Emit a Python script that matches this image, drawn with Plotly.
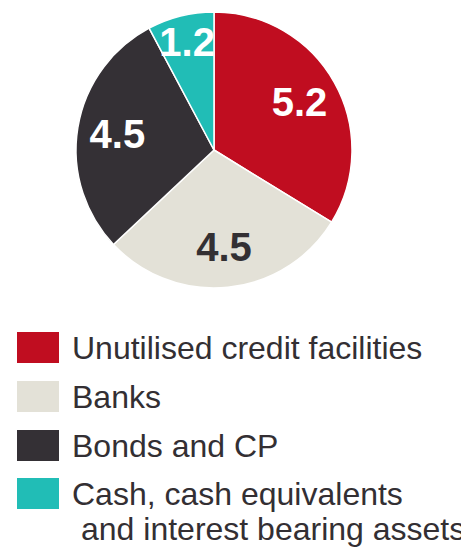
import plotly.graph_objects as go

labels = [
    "Unutilised credit facilities",
    "Banks",
    "Bonds and CP",
    "Cash, cash equivalents<br>and interest bearing assets",
]
values = [5.2, 4.5, 4.5, 1.2]
colors = ["#C00D20", "#E3E1D7", "#343035", "#21BDB6"]
text_colors = ["#FFFFFF", "#333033", "#FFFFFF", "#FFFFFF"]

W, H = 469, 550
OFF = 8  # page body margin shifts the figure by 8px
FONT = "Arial, Liberation Sans, sans-serif"


def px(x):
    return (x - OFF) / W


def py(y):
    return 1 - (y - OFF) / H


pie_domain = dict(x=[px(76), px(352)], y=[py(288), py(12)])

fig = go.Figure()

# slices
fig.add_trace(go.Pie(
    labels=labels,
    values=values,
    sort=False,
    direction="clockwise",
    rotation=0,
    marker=dict(colors=colors, line=dict(color="#FFFFFF", width=1.5)),
    textinfo="none",
    showlegend=False,
    hoverinfo="skip",
    domain=pie_domain,
))

# value labels, drawn by a transparent donut so they sit further out
fig.add_trace(go.Pie(
    labels=labels,
    values=values,
    sort=False,
    direction="clockwise",
    rotation=0,
    hole=0.42,
    marker=dict(colors=["rgba(0,0,0,0)"] * 4, line=dict(width=0)),
    texttemplate="%{value:.1f}",
    textposition="inside",
    insidetextorientation="horizontal",
    textfont=dict(family=FONT, size=40, color=text_colors, weight="bold"),
    showlegend=False,
    hoverinfo="skip",
    domain=pie_domain,
))

# hand-drawn legend: square swatch + label per row
row_top = [332, 381, 430, 478]
shapes = []
annotations = []
for i, lab in enumerate(labels):
    y0 = row_top[i]
    shapes.append(dict(
        type="rect", xref="paper", yref="paper",
        x0=px(17), x1=px(59), y0=py(y0 + 31), y1=py(y0),
        fillcolor=colors[i], line=dict(width=0),
    ))
    for j, part in enumerate(lab.split("<br>")):
        annotations.append(dict(
            text=part, xref="paper", yref="paper",
            x=px(70 if j == 0 else 79), y=py(y0 + 16 + j * 35),
            xanchor="left", yanchor="middle", showarrow=False,
            font=dict(family=FONT, size=32, color="#332F33"),
        ))

fig.update_layout(
    width=W,
    height=H,
    margin=dict(l=0, r=0, t=0, b=0),
    paper_bgcolor="#FFFFFF",
    plot_bgcolor="#FFFFFF",
    uniformtext=dict(minsize=40, mode="show"),
    shapes=shapes,
    annotations=annotations,
)

fig.write_html("out.html")
